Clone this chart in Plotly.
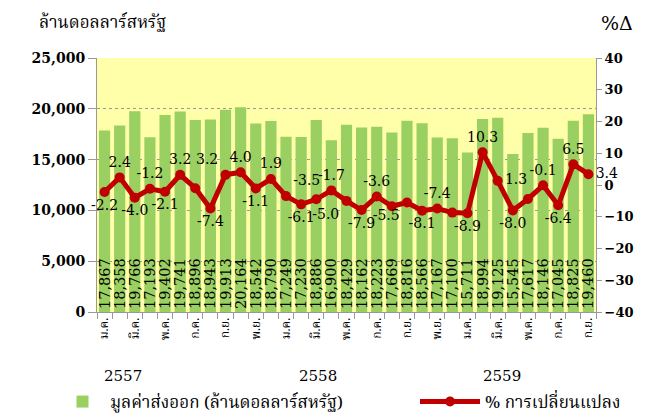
import plotly.graph_objects as go

months = ["ม.ค.", "ก.พ.", "มี.ค.", "เม.ย.", "พ.ค.", "มิ.ย.", "ก.ค.", "ส.ค.", "ก.ย.", "ต.ค.", "พ.ย.", "ธ.ค."] * 2 + \
         ["ม.ค.", "ก.พ.", "มี.ค.", "เม.ย.", "พ.ค.", "มิ.ย.", "ก.ค.", "ส.ค.", "ก.ย."]
years = ["2557", "2558", "2559"]

exports = [17867, 18358, 19766, 17193, 19402, 19741, 18896, 18943, 19913, 20164, 18542, 18790,
           17249, 17230, 18886, 16900, 18429, 18162, 18223, 17669, 18816, 18566, 17167, 17100,
           15711, 18994, 19125, 15545, 17617, 18146, 17045, 18825, 19460]

pct_change = [-2.2, 2.4, -4.0, -1.2, -2.1, 3.2, -1.0, -7.4, 3.2, 4.0, -1.1, 1.9,
              -3.5, -6.1, -4.5, -1.7, -5.0, -7.9, -3.6, -6.7, -5.5, -8.1, -7.4, -8.7,
              -8.9, 10.3, 1.3, -8.0, -4.4, -0.1, -6.4, 6.5, 3.4]

pct_labels = ["-2.2", "2.4", "-4.0", "-1.2", "-2.1", "3.2", "", "-7.4", "3.2", "4.0", "-1.1", "1.9",
              "-3.5", "-6.1", "", "-1.7", "-5.0", "-7.9", "-3.6", "", "-5.5", "-8.1", "-7.4", "",
              "-8.9", "10.3", "1.3", "-8.0", "", "-0.1", "-6.4", "6.5", "3.4"]

label_pos = ["bottom center", "top center", "bottom center", "top center", "bottom center", "top center",
             "top center", "bottom center", "top left", "top center", "bottom center", "top center",
             "top right", "bottom center", "top center", "top center", "bottom left", "bottom center",
             "top center", "top center", "bottom left", "bottom center", "top center", "top center",
             "bottom center", "top center", "middle right", "bottom center", "top center", "top center",
             "bottom center", "top center", "middle right"]

x = list(range(1, len(exports) + 1))
bar_text = [f"{v:,}" for v in exports]

SERIF = "DejaVu Serif"
THAI = "Noto Serif Thai, Noto Sans Thai, Loma, Garuda, Tlwg Typo, DejaVu Sans, sans-serif"

# page body has an 8px margin; figure sized so the plot lands at page x 97..596, y 58..312
OFF = 8
W, H = 640, 409
L, R, T, B = 89, 52, 50, 105
plot_w = W - L - R
plot_h = H - T - B


def px_to_paper(px, py):
    """page pixel -> paper coords"""
    return (px - OFF - L) / plot_w, (H - B - (py - OFF)) / plot_h


fig = go.Figure()
fig.add_trace(go.Bar(
    x=x, y=exports, name="มูลค่าส่งออก (ล้านดอลลาร์สหรัฐ)",
    marker=dict(color="#9ACF62", line=dict(width=0)),
    text=bar_text, textposition="inside", insidetextanchor="start", textangle=-90,
    constraintext="none",
    textfont=dict(family=SERIF, size=14.5, color="black"),
    width=0.74, yaxis="y", legend="legend",
))
fig.add_trace(go.Scatter(
    x=x, y=pct_change, name="% การเปลี่ยนแปลง", mode="lines+markers+text",
    line=dict(color="#C00000", width=5), marker=dict(color="#C00000", size=10),
    text=pct_labels, textposition=label_pos,
    textfont=dict(family=SERIF, size=14, color="black"),
    yaxis="y2", cliponaxis=False, legend="legend2",
))

tickvals = [i for i in x if (i - 1) % 2 == 0]
ticktext = [months[i - 1] for i in tickvals]

l1x, l1y = px_to_paper(55, 402)
l2x, l2y = px_to_paper(415, 402)

fig.update_layout(
    width=W, height=H,
    margin=dict(l=L, r=R, t=T, b=B, autoexpand=False),
    paper_bgcolor="white", plot_bgcolor="#FFFFAA",
    showlegend=True,
    legend=dict(orientation="h", x=l1x, xanchor="left", y=l1y, yanchor="middle",
                font=dict(family=THAI, size=17, color="black"),
                bgcolor="rgba(0,0,0,0)", itemwidth=45),
    legend2=dict(orientation="h", x=l2x, xanchor="left", y=l2y, yanchor="middle",
                 font=dict(family=THAI, size=17, color="black"),
                 bgcolor="rgba(0,0,0,0)", itemwidth=60),
    xaxis=dict(
        range=[0.5, len(x) + 0.5], tickmode="array", tickvals=tickvals, ticktext=ticktext,
        tickangle=-90, ticks="", showgrid=False, showline=True, linecolor="#999", linewidth=1,
        tickfont=dict(family=THAI, size=12, color="black"), automargin=False,
        minor=dict(tickmode="linear", tick0=0.5, dtick=1, ticks="outside", ticklen=6,
                   tickcolor="#999", showgrid=False),
        zeroline=False,
    ),
    yaxis=dict(
        range=[0, 25000], dtick=5000, tickformat=",", ticks="outside", ticklen=8, tickcolor="#999",
        showline=True, linecolor="#999", linewidth=1, automargin=False,
        showgrid=True, gridcolor="#999", griddash="dot", gridwidth=1,
        tickfont=dict(family=SERIF, size=14, color="black", weight="bold"),
        zeroline=False,
    ),
    yaxis2=dict(
        range=[-40, 40], dtick=10, overlaying="y", side="right", ticks="outside", ticklen=5,
        tickcolor="#999", showline=True, linecolor="#999", linewidth=1, showgrid=False,
        tickfont=dict(family=SERIF, size=13, color="black", weight="bold"), automargin=False,
        zeroline=False,
    ),
)

ax, ay = px_to_paper(102, 23)
bx, by = px_to_paper(617, 23)
fig.add_annotation(text="ล้านดอลลาร์สหรัฐ", x=ax, y=ay, xref="paper", yref="paper",
                   xanchor="center", yanchor="middle", showarrow=False,
                   font=dict(family=THAI, size=17, color="black"))
fig.add_annotation(text="%Δ", x=bx, y=by, xref="paper", yref="paper",
                   xanchor="center", yanchor="middle", showarrow=False,
                   font=dict(family=SERIF, size=19, color="black"))

year_pos = [2.2, 15.1, 27.3]
_, yy = px_to_paper(0, 376)
for yr, xp in zip(years, year_pos):
    fig.add_annotation(text=yr, x=xp, xref="x", y=yy, yref="paper", showarrow=False,
                       xanchor="center", yanchor="middle",
                       font=dict(family=SERIF, size=15, color="black"))

fig.write_html("out.html")
